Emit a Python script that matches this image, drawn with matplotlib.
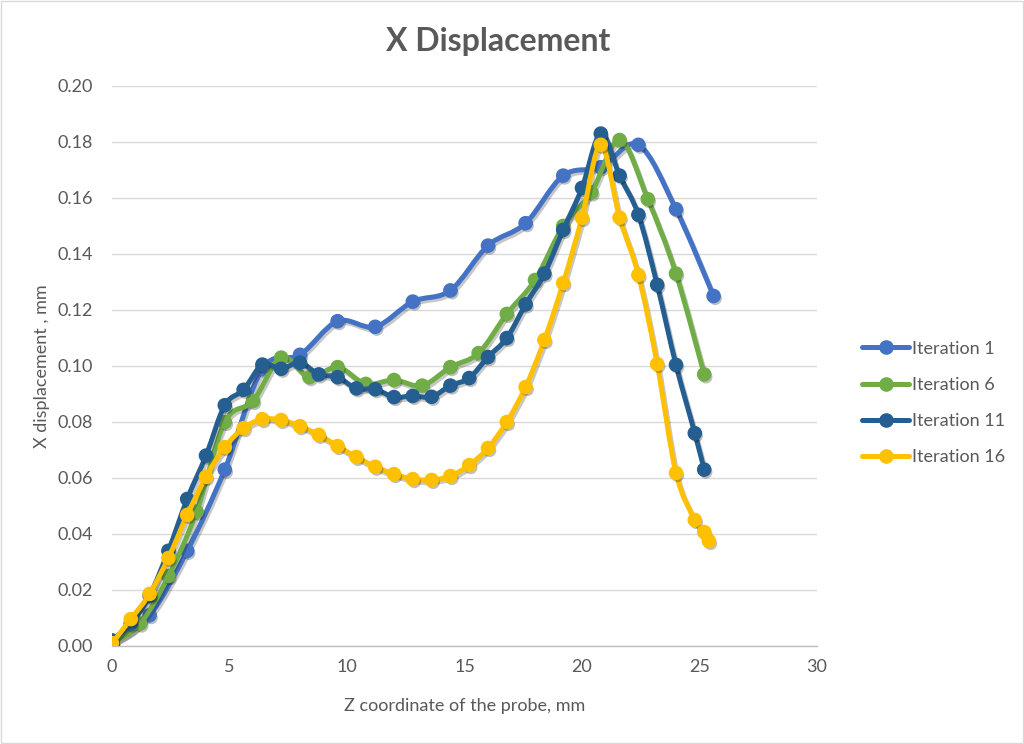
import matplotlib
matplotlib.use("Agg")
import matplotlib.pyplot as plt
import matplotlib.patheffects as pe
from matplotlib.path import Path
from matplotlib.patches import PathPatch, Rectangle
from matplotlib.lines import Line2D

plt.rcParams['font.family'] = ['Lato', 'DejaVu Sans']

# ---- data ----
series_names = ["Iteration 1", "Iteration 6", "Iteration 11", "Iteration 16"]

z_it1 = [0, 1.6, 3.2, 4.8, 6.4, 8.0, 9.6, 11.2, 12.8, 14.4, 16.0, 17.6, 19.2, 20.8, 22.4, 24.0, 25.6]
x_it1 = [0.001, 0.011, 0.034, 0.063, 0.099, 0.104, 0.116, 0.114, 0.123, 0.127, 0.143, 0.151,
         0.168, 0.171, 0.179, 0.156, 0.125]

z_it6 = [0, 1.2, 2.4, 3.6, 4.8, 6.0, 7.2, 8.4, 9.6, 10.8, 12.0, 13.2, 14.4, 15.6, 16.8, 18.0,
         19.2, 20.4, 21.6, 22.8, 24.0, 25.2]
x_it6 = [0.001, 0.008, 0.025, 0.048, 0.080, 0.0875, 0.103, 0.096, 0.0996, 0.0936, 0.095, 0.093,
         0.0996, 0.1046, 0.1186, 0.1307, 0.150, 0.162, 0.1807, 0.1596, 0.133, 0.097]

z_it11 = [0, 0.8, 1.6, 2.4, 3.2, 4.0, 4.8, 5.6, 6.4, 7.2, 8.0, 8.8, 9.6, 10.4, 11.2, 12.0, 12.8,
          13.6, 14.4, 15.2, 16.0, 16.8, 17.6, 18.4, 19.2, 20.0, 20.8, 21.6, 22.4, 23.2, 24.0,
          24.8, 25.2]
x_it11 = [0.002, 0.008, 0.018, 0.034, 0.0525, 0.068, 0.086, 0.0915, 0.1005, 0.099, 0.1012,
          0.097, 0.096, 0.092, 0.0917, 0.0889, 0.0893, 0.089, 0.093, 0.0957, 0.1032, 0.110,
          0.122, 0.133, 0.1486, 0.1636, 0.183, 0.168, 0.154, 0.129, 0.1004, 0.076, 0.063]

z_it16 = [0, 0.8, 1.6, 2.4, 3.2, 4.0, 4.8, 5.6, 6.4, 7.2, 8.0, 8.8, 9.6, 10.4, 11.2, 12.0, 12.8,
          13.6, 14.4, 15.2, 16.0, 16.8, 17.6, 18.4, 19.2, 20.0, 20.8, 21.6, 22.4, 23.2, 24.0,
          24.8, 25.2, 25.4]
x_it16 = [0.001, 0.0096, 0.0186, 0.0314, 0.0468, 0.0604, 0.071, 0.0778, 0.081, 0.0807, 0.0785,
          0.0754, 0.0714, 0.0675, 0.064, 0.0614, 0.0596, 0.0593, 0.0607, 0.0646, 0.0707, 0.080,
          0.0925, 0.1093, 0.1296, 0.1529, 0.179, 0.153, 0.1325, 0.1007, 0.0618, 0.045, 0.0407,
          0.0375]

x_ticks = [0, 5, 10, 15, 20, 25, 30]
y_ticks = [0.00, 0.02, 0.04, 0.06, 0.08, 0.10, 0.12, 0.14, 0.16, 0.18, 0.20]

colors = ["#4472C4", "#70AD47", "#255E91", "#FFC000"]
TXT = "#595959"

fig = plt.figure(figsize=(10.24, 7.44), dpi=100)
ax = fig.add_axes([112 / 1024, 1 - 646 / 744, (817 - 112) / 1024, (646 - 86) / 744])

line_shadow = [pe.SimpleLineShadow(offset=(1.2, -1.8), shadow_color='black', alpha=0.22, rho=0.3),
               pe.Normal()]
marker_shadow = [pe.SimplePatchShadow(offset=(1.2, -1.8), shadow_rgbFace='black', alpha=0.25),
                 pe.Normal()]


def smooth_path(xs, ys):
    pts = list(zip(xs, ys))
    n = len(pts)
    verts = [pts[0]]
    codes = [Path.MOVETO]
    for i in range(n - 1):
        p0 = pts[i - 1] if i > 0 else pts[i]
        p1 = pts[i]
        p2 = pts[i + 1]
        p3 = pts[i + 2] if i + 2 < n else pts[i + 1]
        c1 = (p1[0] + (p2[0] - p0[0]) / 6, p1[1] + (p2[1] - p0[1]) / 6)
        c2 = (p2[0] - (p3[0] - p1[0]) / 6, p2[1] - (p3[1] - p1[1]) / 6)
        verts += [c1, c2, p2]
        codes += [Path.CURVE4] * 3
    return Path(verts, codes)


LW = 3.6
MS = 9.5
data = [(z_it1, x_it1), (z_it6, x_it6), (z_it11, x_it11), (z_it16, x_it16)]
for k, ((zs, vs), c) in enumerate(zip(data, colors)):
    patch = PathPatch(smooth_path(zs, vs), facecolor='none', fill=False, edgecolor=c, lw=LW,
                      capstyle='round', joinstyle='round', zorder=3 + k)
    patch.set_path_effects(line_shadow)
    ax.add_patch(patch)
    ax.plot(zs, vs, linestyle='none', marker='o', ms=MS, color=c, mec=c, zorder=3.5 + k,
            path_effects=marker_shadow)

ax.set_xlim(0, 30)
ax.set_ylim(0, 0.20)
ax.set_xticks(x_ticks)
ax.set_xticklabels([str(t) for t in x_ticks])
ax.set_yticks(y_ticks)
ax.set_yticklabels([f"{t:.2f}" for t in y_ticks])
ax.tick_params(axis='both', length=0, labelsize=13, labelcolor=TXT)
ax.tick_params(axis='y', pad=14)
ax.tick_params(axis='x', pad=9)
ax.grid(axis='y', color='#D9D9D9', lw=1)
ax.set_axisbelow(True)
for s in ['top', 'right', 'left']:
    ax.spines[s].set_visible(False)
ax.spines['bottom'].set_color('#BFBFBF')
ax.spines['bottom'].set_linewidth(1)
ax.spines['bottom'].set_zorder(1)

ax.set_xlabel("Z coordinate of the probe, mm", fontsize=13, color=TXT, labelpad=17)
ax.set_ylabel("X displacement , mm", fontsize=13, color=TXT, labelpad=5)

fig.text(498 / 1024, 1 - 42 / 744, "X Displacement", ha='center', va='center',
         fontsize=23, fontweight='bold', color=TXT)

handles = [Line2D([], [], color=c, lw=LW, marker='o', ms=MS, solid_capstyle='round')
           for c in colors]
fig.legend(handles, series_names, loc='center left', bbox_to_anchor=(846 / 1024, 1 - 403 / 744),
           frameon=False, fontsize=13, labelcolor=TXT, handlelength=2.6, handletextpad=0.15,
           labelspacing=1.12)

fig.add_artist(Rectangle((0.001, 0.001), 0.998, 0.998, transform=fig.transFigure,
                         fill=False, edgecolor='#D9D9D9', lw=1))

fig.savefig("out.png", dpi=100)
